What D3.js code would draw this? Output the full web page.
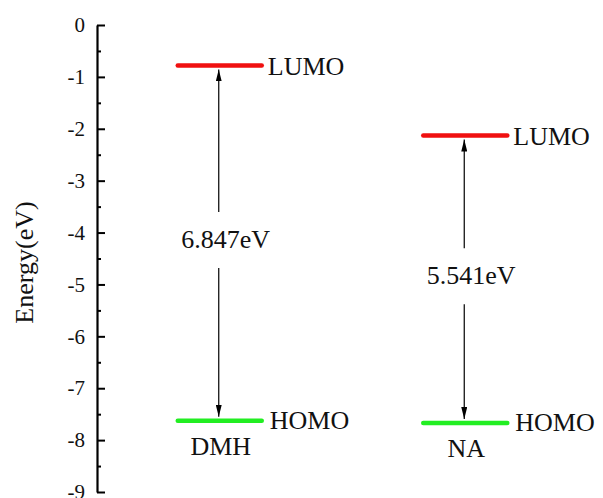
<!DOCTYPE html>
<html lang="en">
  <head>
    <meta charset="utf-8">
    <title>HOMO / LUMO energy levels</title>
    <style>
      body { margin: 0; background: #fff; }
      svg { display: block; }
      svg text { font-family: "Liberation Serif", "Times New Roman", serif; }
    </style>
    <script src="https://d3js.org/d3.v7.min.js"></script>
  </head>
  <body>
    <div class="chart"></div>
    <script>

    // values
    const molecules = ["DMH", "NA"]
    const lumo = [-0.78, -2.13]
    const homo = [-7.627, -7.671]
    const gapLabels = ["6.847eV", "5.541eV"]
    const majorTicks = [0, -1, -2, -3, -4, -5, -6, -7, -8, -9]
    const minorTicks = [-0.5, -1.5, -2.5, -3.5, -4.5, -5.5, -6.5, -7.5, -8.5]

    const width = 603, height = 498
    const axisX = 97

    const svg = d3.select(".chart")
      .append("svg")
      .attr("width", width)
      .attr("height", height)

    const y = d3.scaleLinear()
      .domain([0, -9])
      .range([25, 492])

    const x = d3.scalePoint()
      .domain(molecules)
      .range([axisX, 588])
      .padding(0.5)

    const halfW = 42

    // axis
    svg.append("g")
      .attr("transform", `translate(${axisX},0)`)
      .call(d3.axisLeft(y).tickValues(minorTicks).tickSize(-4).tickSizeOuter(0).tickFormat(""))
      .call(g => g.select(".domain").remove())
      .selectAll("line").attr("stroke", "#000").attr("stroke-width", 2)

    const yAxis = svg.append("g")
      .attr("transform", `translate(${axisX},0)`)
      .call(d3.axisLeft(y).tickValues(majorTicks).tickSize(-8).tickSizeOuter(0)
        .tickPadding(12).tickFormat(d => String(d)))
      .attr("font-family", null)

    yAxis.select(".domain").attr("stroke", "#000").attr("stroke-width", 2.2)
    yAxis.selectAll(".tick line").attr("stroke", "#000").attr("stroke-width", 2)
    yAxis.selectAll(".tick text")
      .attr("fill", "#111")
      .style("font-size", "21px")

    svg.append("text")
      .attr("transform", `translate(33,${y(-4.5) + 4}) rotate(-90)`)
      .attr("text-anchor", "middle")
      .style("font-size", "26px")
      .attr("fill", "#111")
      .text("Energy(eV)")

    svg.append("defs").append("marker")
      .attr("id", "head")
      .attr("viewBox", "0 0 12 6")
      .attr("refX", 12).attr("refY", 3)
      .attr("markerWidth", 12).attr("markerHeight", 6)
      .attr("markerUnits", "userSpaceOnUse")
      .attr("orient", "auto")
      .append("path")
      .attr("d", "M0,0 L12,3 L0,6 Z")
      .attr("fill", "#000")

    molecules.forEach((m, i) => {
      const cx = x(m)
      const yL = y(lumo[i]), yH = y(homo[i])
      const mid = (yL + yH) / 2
      const g = svg.append("g")

      // levels
      g.append("line")
        .attr("x1", cx - halfW).attr("x2", cx + halfW)
        .attr("y1", yL).attr("y2", yL)
        .attr("stroke", "#f01010").attr("stroke-width", 4.5)
        .attr("stroke-linecap", "round")
      g.append("line")
        .attr("x1", cx - halfW).attr("x2", cx + halfW)
        .attr("y1", yH).attr("y2", yH)
        .attr("stroke", "#22ee22").attr("stroke-width", 4.5)
        .attr("stroke-linecap", "round")

      // arrows
      const base = mid + 5
      g.append("line")
        .attr("x1", cx - 1).attr("x2", cx - 1)
        .attr("y1", base - 36).attr("y2", yL + 4)
        .attr("stroke", "#000").attr("stroke-width", 1.2)
        .attr("marker-end", "url(#head)")
      g.append("line")
        .attr("x1", cx - 1).attr("x2", cx - 1)
        .attr("y1", base + 20).attr("y2", yH - 4)
        .attr("stroke", "#000").attr("stroke-width", 1.2)
        .attr("marker-end", "url(#head)")

      g.append("text")
        .attr("x", cx + 6).attr("y", base)
        .attr("text-anchor", "middle")
        .style("font-size", "26px")
        .attr("fill", "#111")
        .text(gapLabels[i])

      // labels
      g.append("text")
        .attr("x", cx + halfW + 6).attr("y", yL).attr("dy", "0.35em")
        .style("font-size", "26px").attr("fill", "#111")
        .text("LUMO")
      g.append("text")
        .attr("x", cx + halfW + 8).attr("y", yH).attr("dy", "0.3em")
        .style("font-size", "26px").attr("fill", "#111")
        .text("HOMO")
      g.append("text")
        .attr("x", cx + 1).attr("y", yH + 34)
        .attr("text-anchor", "middle")
        .style("font-size", "26px").attr("fill", "#111")
        .text(m)
    })
    </script>
  </body>
</html>
